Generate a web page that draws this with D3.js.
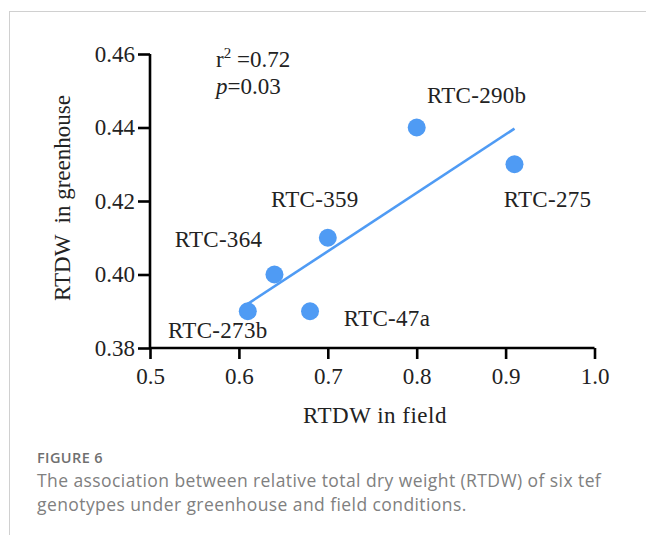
<!DOCTYPE html>
<html>
<head>
<meta charset="utf-8">
<script src="https://cdn.jsdelivr.net/npm/d3@7"></script>
<style>
  html, body { margin: 0; padding: 0; background: #fff; }
  svg { display: block; }
</style>
</head>
<body>
<svg id="chart" width="646" height="535"></svg>
<script>
// ---- data ----
const genotypes = ["RTC-273b", "RTC-364", "RTC-47a", "RTC-359", "RTC-290b", "RTC-275"];
const rtdwField = [0.61, 0.64, 0.68, 0.70, 0.80, 0.91];
const rtdwGreenhouse = [0.39, 0.40, 0.39, 0.41, 0.44, 0.43];
const fitX = [0.61, 0.91];
const fitY = [0.392, 0.4397];
const xTicks = [0.5, 0.6, 0.7, 0.8, 0.9, 1.0];
const yTicks = [0.38, 0.40, 0.42, 0.44, 0.46];
// label anchor offsets (px) relative to point
const labelDx = [-30, -56, 77, -13, 60, 33];
const labelDy = [27, -28, 15, -31, -25, 43];

const svg = d3.select("#chart");
const serif = "'Liberation Serif', 'Times New Roman', serif";
const blue = "#4f9bf4";

// frame
svg.append("line").attr("x1", 9).attr("x2", 646).attr("y1", 11.5).attr("y2", 11.5)
  .attr("stroke", "#d0d0d0").attr("stroke-width", 1);
svg.append("line").attr("x1", 9.5).attr("x2", 9.5).attr("y1", 11).attr("y2", 535)
  .attr("stroke", "#d0d0d0").attr("stroke-width", 1);

const x = d3.scaleLinear().domain([0.5, 1.0]).range([150, 594.5]);
const y = d3.scaleLinear().domain([0.38, 0.46]).range([348, 54]);

const g = svg.append("g");

// axes
const xAxis = g.append("g").attr("transform", "translate(0,348)")
  .call(d3.axisBottom(x).tickValues(xTicks).tickFormat(d3.format(".1f")).tickSize(11).tickPadding(9));
const yAxis = g.append("g").attr("transform", "translate(150,0)")
  .call(d3.axisLeft(y).tickValues(yTicks).tickFormat(d3.format(".2f")).tickSize(12).tickPadding(3));
[xAxis, yAxis].forEach(a => {
  a.select(".domain").attr("stroke", "#000").attr("stroke-width", 2.6);
  a.selectAll(".tick line").attr("stroke", "#000").attr("stroke-width", 2.6);
  a.selectAll("text").attr("font-family", serif).attr("font-size", 23).attr("fill", "#222");
});
xAxis.select(".domain").attr("d", `M${x(0.5)},0H${x(1.0)}`);
yAxis.select(".domain").attr("d", `M0,${y(0.38)}V${y(0.46)}`);

// axis titles
g.append("text").attr("x", 375).attr("y", 423).attr("text-anchor", "middle")
  .attr("font-family", serif).attr("font-size", 23).attr("fill", "#222")
  .attr("letter-spacing", 0.5)
  .text("RTDW in field");
g.append("text").attr("transform", "translate(70,198) rotate(-90)").attr("text-anchor", "middle")
  .attr("font-family", serif).attr("font-size", 23).attr("fill", "#222")
  .attr("xml:space", "preserve")
  .text("RTDW  in greenhouse");

// regression line
g.append("line")
  .attr("x1", x(fitX[0])).attr("y1", y(fitY[0]))
  .attr("x2", x(fitX[1])).attr("y2", y(fitY[1]))
  .attr("stroke", blue).attr("stroke-width", 2.6);

// points
g.selectAll("circle.pt").data(rtdwField).join("circle")
  .attr("class", "pt")
  .attr("cx", d => x(d))
  .attr("cy", (d, i) => y(rtdwGreenhouse[i]))
  .attr("r", 9)
  .attr("fill", blue);

// labels
g.selectAll("text.lab").data(genotypes).join("text")
  .attr("class", "lab")
  .attr("x", (d, i) => x(rtdwField[i]) + labelDx[i])
  .attr("y", (d, i) => y(rtdwGreenhouse[i]) + labelDy[i])
  .attr("text-anchor", "middle")
  .attr("font-family", serif).attr("font-size", 23).attr("fill", "#222")
  .attr("letter-spacing", 0.3)
  .text(d => d);

// stats annotation
const r2 = g.append("text").attr("x", 216).attr("y", 67)
  .attr("font-family", serif).attr("font-size", 23).attr("fill", "#222");
r2.append("tspan").text("r");
r2.append("tspan").attr("dy", -9).attr("font-size", 15).text("2");
r2.append("tspan").attr("dy", 9).text(" =0.72");
const pv = g.append("text").attr("x", 216).attr("y", 94)
  .attr("font-family", serif).attr("font-size", 23).attr("fill", "#222");
pv.append("tspan").attr("font-style", "italic").text("p");
pv.append("tspan").text("=0.03");

// caption
const sans = "'Open Sans', Lato, sans-serif";
svg.append("text").attr("x", 37).attr("y", 463)
  .attr("font-family", sans).attr("font-size", 14.5).attr("font-weight", 600).attr("fill", "#6f6f6f")
  .attr("letter-spacing", 0.4)
  .text("FIGURE 6");
svg.append("text").attr("x", 37).attr("y", 487)
  .attr("font-family", sans).attr("font-size", 17.5).attr("fill", "#808080")
  .attr("letter-spacing", 0.42)
  .text("The association between relative total dry weight (RTDW) of six tef");
svg.append("text").attr("x", 37).attr("y", 511)
  .attr("font-family", sans).attr("font-size", 17.5).attr("fill", "#808080")
  .attr("letter-spacing", 0.42)
  .text("genotypes under greenhouse and field conditions.");
</script>
</body>
</html>
